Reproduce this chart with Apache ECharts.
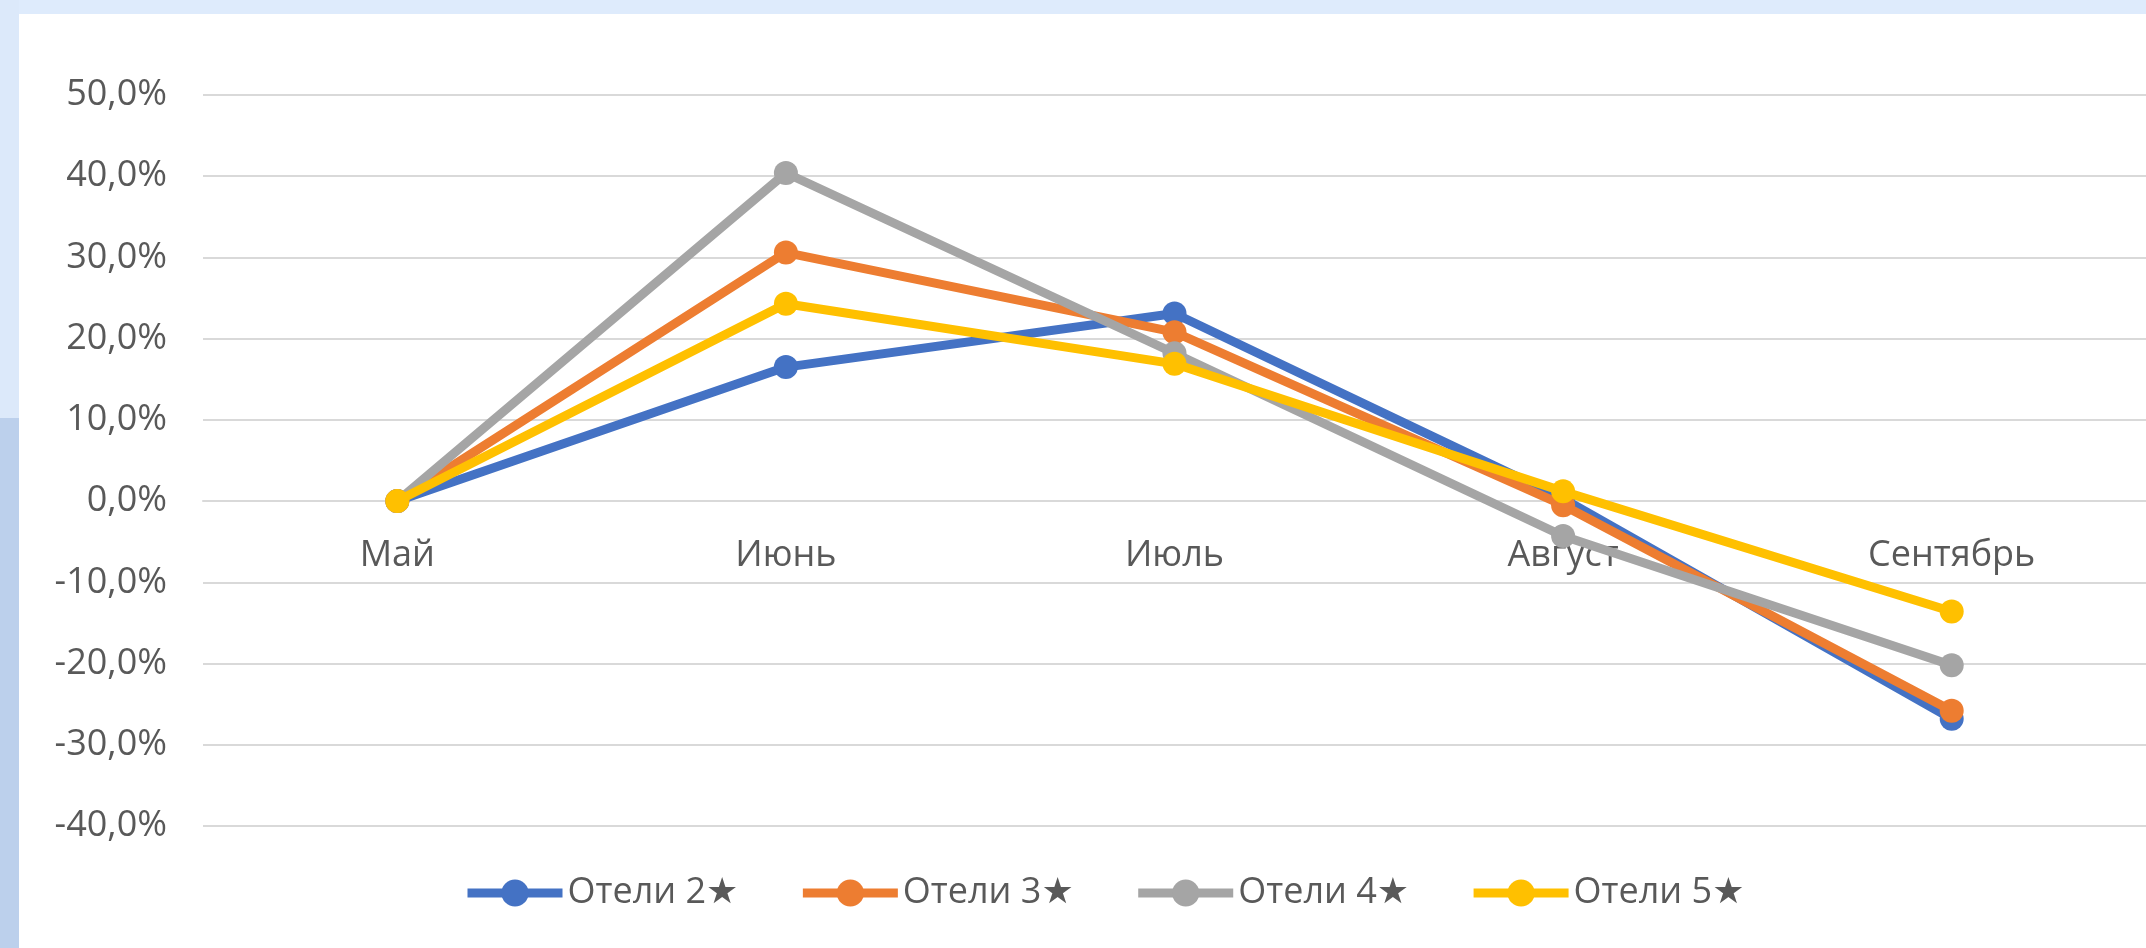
<!DOCTYPE html>
<html>
<head>
<meta charset="utf-8">
<script src="https://cdn.jsdelivr.net/npm/echarts@6.0.0/dist/echarts.min.js"></script>
<style>
  html, body { margin: 0; padding: 0; background: #ffffff; }
  #wrap { position: relative; width: 2146px; height: 948px; overflow: hidden; background: #ffffff; }
  #topband { position: absolute; left: 0; top: 0; width: 2146px; height: 14px; background: #deebfc; }
  #leftup { position: absolute; left: 0; top: 0; width: 19px; height: 418px; background: #dce9fa; }
  #leftdown { position: absolute; left: 0; top: 418px; width: 19px; height: 530px; background: #bcd0ec; }
  #chart { position: absolute; left: 0; top: 0; width: 2146px; height: 948px; }
</style>
</head>
<body>
<div id="wrap">
  <div id="topband"></div>
  <div id="leftup"></div>
  <div id="leftdown"></div>
  <div id="chart"></div>
</div>
<script>
const categories = ['Май', 'Июнь', 'Июль', 'Август', 'Сентябрь'];
const seriesNames = ['Отели 2★', 'Отели 3★', 'Отели 4★', 'Отели 5★'];
const hotels2 = [0, 16.5, 23.1, 0.3, -26.8];
const hotels3 = [0, 30.6, 20.8, -0.5, -25.8];
const hotels4 = [0, 40.4, 18.2, -4.3, -20.2];
const hotels5 = [0, 24.3, 16.9, 1.2, -13.6];
const colors = ['#4472C4', '#ED7D31', '#A5A5A5', '#FFC000'];
const yMin = -40, yMax = 50, yStep = 10;

const FONT = "'Open Sans', 'DejaVu Sans', sans-serif";
const allData = [hotels2, hotels3, hotels4, hotels5];

const GRID_TOP = 95, GRID_BOTTOM = 122, H = 948;
const plotH = H - GRID_TOP - GRID_BOTTOM;
// place the category axis where the value axis crosses zero (Excel style)
const zeroOffset = -plotH * (0 - yMin) / (yMax - yMin);

const chart = echarts.init(document.getElementById('chart'), null, { renderer: 'canvas' });
chart.setOption({
  animation: false,
  backgroundColor: 'transparent',
  color: colors,
  grid: { left: 203, right: 0, top: GRID_TOP, bottom: GRID_BOTTOM, containLabel: false },
  legend: {
    data: seriesNames,
    left: 458,
    top: 870,
    itemWidth: 95,
    itemHeight: 34,
    itemGap: 60,
    lineStyle: { width: 9 },
    textStyle: { fontFamily: FONT, fontSize: 36, color: '#595959' }
  },
  xAxis: {
    type: 'category',
    data: categories,
    boundaryGap: true,
    offset: zeroOffset,
    axisLine: { show: true, onZero: false, lineStyle: { color: '#d9d9d9', width: 2 } },
    axisTick: { show: false },
    axisLabel: { fontFamily: FONT, fontSize: 36, color: '#595959', margin: 37 },
    splitLine: { show: false }
  },
  yAxis: {
    type: 'value',
    min: yMin,
    max: yMax,
    interval: yStep,
    axisLine: { show: false },
    axisTick: { show: false },
    axisLabel: {
      fontFamily: FONT, fontSize: 36, color: '#595959', margin: 36,
      formatter: v => v.toFixed(1).replace('.', ',') + '%'
    },
    splitLine: { show: true, lineStyle: { color: '#d9d9d9', width: 2 } }
  },
  series: seriesNames.map((name, i) => ({
    name: name,
    type: 'line',
    data: allData[i],
    symbol: 'circle',
    symbolSize: 24,
    showAllSymbol: true,
    lineStyle: { width: 9, color: colors[i] },
    itemStyle: { color: colors[i] },
    z: 2 + i
  }))
});
</script>
</body>
</html>
